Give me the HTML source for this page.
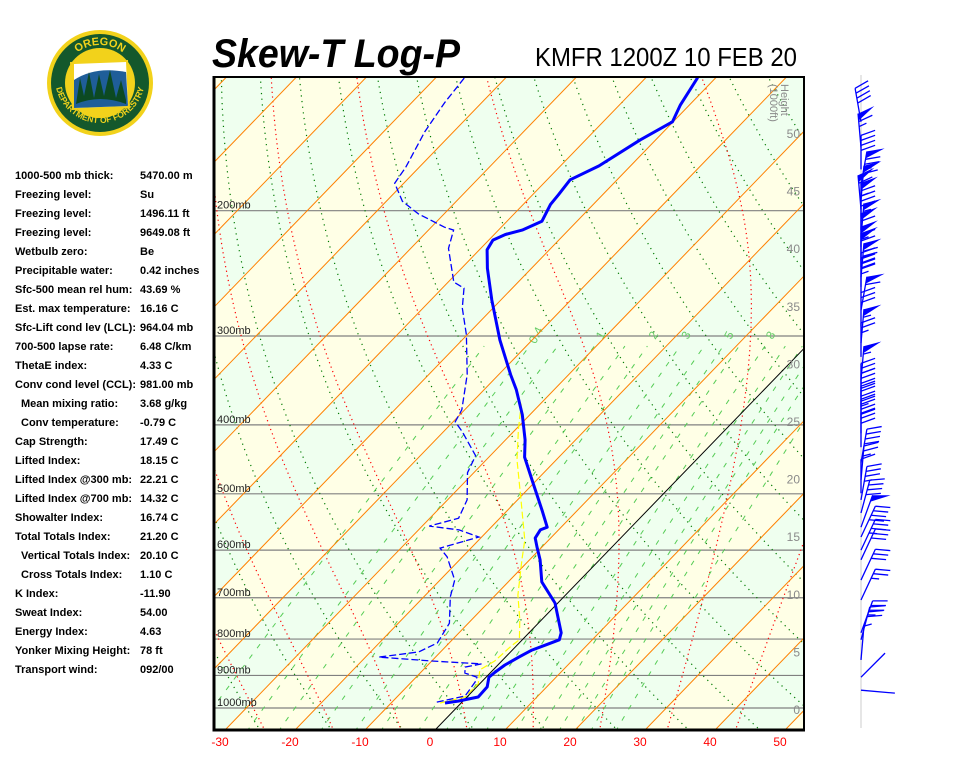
<!DOCTYPE html>
<html><head><meta charset="utf-8"><title>Skew-T Log-P KMFR</title>
<style>
html,body{margin:0;padding:0;background:#fff;}
body{width:960px;height:768px;position:relative;overflow:hidden;font-family:"Liberation Sans",Arial,sans-serif;}
#stats{position:absolute;left:0;top:0;}
.row{position:absolute;font-size:11px;font-weight:bold;color:#000;white-space:nowrap;}
</style></head>
<body>
<svg id="chart" width="960" height="768" viewBox="0 0 960 768" style="position:absolute;left:0;top:0">
  <defs>
    <clipPath id="plotclip"><rect x="215" y="78" width="589" height="651"/></clipPath>
    <path id="arcTop" d="M 62 83 A 38 38 0 0 1 138 83"/>
    <path id="arcBot" d="M 55 78 A 45 45 0 0 0 145 78"/>
  </defs>
  <g>
    <circle cx="100" cy="83" r="53" fill="#f2d21b"/>
    <circle cx="100" cy="83" r="49" fill="#14582c"/>
    <circle cx="100" cy="83" r="35" fill="#f2d21b"/>
    <path d="M70 62 L128 60 L130 108 L72 110 Z" fill="#f2d21b"/>
    <path d="M74 64 L126 62 L128 106 L74 108 Z" fill="#ffffff"/>
    <path d="M74 80 Q95 66 126 72 L128 106 L74 108 Z" fill="#1f5e99"/>
    <path d="M76 104 L80 78 L84 96 L89 72 L94 98 L99 74 L104 96 L110 70 L116 98 L121 80 L126 100 L126 104 Q100 94 76 104 Z" fill="#0c4a22"/>
    <text font-family="Liberation Sans, sans-serif" font-weight="bold" font-size="11" fill="#f2d21b"><textPath href="#arcTop" startOffset="50%" text-anchor="middle">OREGON</textPath></text>
    <text font-family="Liberation Sans, sans-serif" font-weight="bold" font-size="8.5" fill="#f2d21b"><textPath href="#arcBot" startOffset="50%" text-anchor="middle">DEPARTMENT OF FORESTRY</textPath></text>
  </g>
  <text x="212" y="67" font-family="Liberation Sans, sans-serif" font-weight="bold" font-style="italic" font-size="40" textLength="248" lengthAdjust="spacingAndGlyphs">Skew-T Log-P</text>
  <text x="535" y="66" font-family="Liberation Sans, sans-serif" font-size="26" textLength="262" lengthAdjust="spacingAndGlyphs">KMFR 1200Z 10 FEB 20</text>
  <g id="plot" clip-path="url(#plotclip)"></g>
  <g id="over"></g>
  <g id="wind"></g>
</svg>
<div id="stats"></div>
<script>
// ---------- data ----------
const tempP = [984,978,965,934,905,890,870,848,829,816,802,784,712,665,619,594,577,562,557,527,478,444,420,387,357,340,304,267,241,227,220,216,213,207,196,190,181,173,159,150,142,130];
const tempT = [-2.3,-0.7,1.6,1.5,0.4,0.6,1.0,1.9,2.8,4.0,5.3,4.6,-0.4,-5.2,-8.5,-10.7,-12.2,-12.6,-12.0,-15.1,-20.7,-24.9,-27.2,-31.1,-35.4,-38.3,-44.6,-51.3,-56.3,-58.9,-59.4,-58.4,-56.6,-55.0,-56.1,-56.3,-56.7,-54.5,-52.2,-50.1,-51.3,-52.6];
const dewP = [981,971,962,919,905,893,876,867,859,848,834,810,760,698,661,613,596,575,562,555,541,510,467,442,409,396,381,340,299,274,257,252,226,213,211,202,194,183,174,155,141,130];
const dewT = [-3.6,-1.9,-0.4,-0.9,-1.3,-3.6,-4.4,-2.5,-10.0,-18.1,-13.1,-11.7,-12.7,-16.2,-17.9,-22.2,-24.4,-20.4,-24.2,-29.0,-25.9,-27.2,-30.9,-32.1,-37.3,-39.7,-40.4,-44.5,-50.1,-54.4,-56.9,-59.2,-64.6,-66.4,-68.1,-73.7,-77.7,-81.3,-81.9,-84.1,-85.3,-85.9];
const wetP = [984,965,925,884,859,816,802,752,694,619,581,510,448,406,375,340,304,267];
const wetT = [-3.0,-0.3,-0.2,-1.9,-1.0,-0.7,-0.4,-3.1,-6.8,-11.1,-13.4,-19.5,-25.6,-29.6,-32.6,-38.3,-44.6,-51.3];
const windP = [150,163,175,184,193,199,204,213,218,225,235,240,248,256,261,276,291,307,321,346,366,378,394,411,430,452,478,499,510,532,557,575,600,619,661,705,784,802,856,905,944];
const windDir = [350,355,0,10,5,355,0,0,5,0,0,0,5,0,0,10,0,5,0,5,0,0,0,0,0,10,5,0,10,15,20,25,25,25,25,25,20,15,5,45,95];
const windSpd = [40,65,40,75,60,60,65,30,55,60,65,60,70,40,35,60,30,55,25,55,30,40,45,40,30,40,25,10,35,40,50,40,35,30,30,25,35,30,5,0,0];
const isoTicks = [-30,-20,-10,0,10,20,30,40,50];
const pressLevels = [1000,900,800,700,600,500,400,300,200];
const heightTicks = [0,5,10,15,20,25,30,35,40,45,50];
const mixRatios = [0.2,0.4,0.6,1,1.5,2,3,4,5,6,8,10,12,14,16,20];
const mixLabels = [0.4,1,2,3,5,8];
const dryThetaC = [-70,-60,-50,-40,-30,-20,-10,0,10,20,30,40,50,60,70,80,90,100,110,120,130,140,150,160,170,180,190,200];
const moistStartC = [-39,-29,-19,-9,1,11,21,31,41];
const statLabels = ["1000-500 mb thick:","Freezing level:","Freezing level:","Freezing level:","Wetbulb zero:","Precipitable water:","Sfc-500 mean rel hum:","Est. max temperature:","Sfc-Lift cond lev (LCL):","700-500 lapse rate:","ThetaE index:","Conv cond level (CCL):","Mean mixing ratio:","Conv temperature:","Cap Strength:","Lifted Index:","Lifted Index @300 mb:","Lifted Index @700 mb:","Showalter Index:","Total Totals Index:","Vertical Totals Index:","Cross Totals Index:","K Index:","Sweat Index:","Energy Index:","Yonker Mixing Height:","Transport wind:"];
const statValues = ["5470.00 m","Su","1496.11 ft","9649.08 ft","Be","0.42 inches","43.69 %","16.16 C","964.04 mb","6.48 C/km","4.33 C","981.00 mb","3.68 g/kg","-0.79 C","17.49 C","18.15 C","22.21 C","14.32 C","16.74 C","21.20 C","20.10 C","1.10 C","-11.90","54.00","4.63","78 ft","092/00"];
const statIndented = [12,13,20,21];

// ---------- axes ----------
const NS = "http://www.w3.org/2000/svg";
const Y1000 = 708, KLOG = 309, XBASE = 436, XPER = 7, SKEW = 0.967, YBOT = 729;
function yOf(p){ return Y1000 + KLOG*Math.log(p/1000); }
function xOf(T,p){ return XBASE + XPER*T + SKEW*(YBOT - yOf(p)); }
function hY(h){ return 709 - h*11.52; }
function mk(tag, attrs, parent){
  const e = document.createElementNS(NS, tag);
  for (const k in attrs) e.setAttribute(k, attrs[k]);
  parent.appendChild(e);
  return e;
}
function pathFrom(pts){ return pts.map((q,i)=>(i?"L":"M")+q[0].toFixed(1)+" "+q[1].toFixed(1)).join(" "); }
function pRange(p0,p1,n){ const a=[]; for(let i=0;i<=n;i++){ a.push(p0*Math.pow(p1/p0,i/n)); } return a; }

const plot = document.getElementById("plot");
const over = document.getElementById("over");
const PTOP = 120, PBOT = 1080;

// background bands
for (let T=-140; T<60; T+=10){
  const band = mk("polygon", {points:[[xOf(T,PBOT),yOf(PBOT)],[xOf(T+10,PBOT),yOf(PBOT)],[xOf(T+10,PTOP),yOf(PTOP)],[xOf(T,PTOP),yOf(PTOP)]].map(q=>q.join(",")).join(" "), fill: (Math.abs(Math.floor(T/10))%2===0)?"#efffef":"#ffffe6"}, plot);
  
  
}
// pressure lines
pressLevels.forEach(p=>{
  const l = mk("line", {x1:214, x2:804, y1:yOf(p), y2:yOf(p), stroke:"#808080", "stroke-width":1.2}, plot);
  
  
});
// dry adiabats (dark green dotted)
dryThetaC.forEach(thc=>{
  const th = thc + 273.15;
  const pts = pRange(PBOT,PTOP,60).map(p=>{ const T = th*Math.pow(p/1000,0.2857)-273.15; return [xOf(T,p),yOf(p)]; });
  const l = mk("path", {d:pathFrom(pts), fill:"none", stroke:"#007a00", "stroke-width":1.2, "stroke-dasharray":"1.2 4.5"}, plot);
  
  
});
// moist adiabats (red dotted)
function esat(Tc){ return 6.112*Math.exp(17.67*Tc/(Tc+243.5)); }
function moistLine(Tk0){
  const out = [];
  function step(pStart,pEnd,n){
    let T = Tk0, p = pStart; const dp = (pEnd-pStart)/n; const arr=[[T,p]];
    for(let i=0;i<n;i++){
      const es = esat(T-273.15), rs = 0.622*es/(p-es);
      const dTdp = (287*T + 2.5e6*rs)/(p*(1004 + 2.5e6*2.5e6*rs*0.622/(287*T*T)));
      T += dTdp*dp; p += dp; arr.push([T,p]);
    }
    return arr;
  }
  const up = step(1000,PTOP,200), dn = step(1000,PBOT,20);
  dn.reverse().concat(up.slice(1)).forEach(a=>out.push([xOf(a[0]-273.15,a[1]), yOf(a[1])]));
  return out;
}
moistStartC.forEach(t0=>{
  const l = mk("path", {d:pathFrom(moistLine(t0+273.15)), fill:"none", stroke:"#ff0000", "stroke-width":1.2, "stroke-dasharray":"1.2 3.5"}, plot);
  
  
});
// mixing ratio lines
function tdFromW(w,p){ const e = w*p/(622+w); const L = Math.log(e/6.112); return 243.5*L/(17.67-L); }
mixRatios.forEach(w=>{
  const pts = pRange(PBOT,310,30).map(p=>[xOf(tdFromW(w,p),p),yOf(p)]);
  const l = mk("path", {d:pathFrom(pts), fill:"none", stroke:"#55cc55", "stroke-width":1, "stroke-dasharray":"5 8"}, plot);
  
  
});
mixLabels.forEach(w=>{
  const p = 305, x = xOf(tdFromW(w,p),p)+6, y = yOf(p)-4;
  const t = mk("text", {x:x, y:y, fill:"#66cc66", "font-size":12, "font-family":"Liberation Sans, sans-serif", "text-anchor":"middle", transform:"rotate(-62 "+x+" "+y+")"}, plot);
  t.textContent = String(w);
  
  
});
// isotherms
for (let T=-140; T<=60; T+=10){
  const l = mk("line", {x1:xOf(T,PBOT), y1:yOf(PBOT), x2:xOf(T,PTOP), y2:yOf(PTOP), stroke: T===0?"#000000":"#ff8000", "stroke-width":1}, plot);
  
  
}
// pressure labels
pressLevels.forEach(p=>{
  const t = mk("text", {x:217, y:yOf(p)-2, fill:"#222", "font-size":11, "font-family":"Liberation Sans, sans-serif"}, plot);
  t.textContent = p+"mb";
  
  
});
// height labels
heightTicks.forEach(h=>{
  const t = mk("text", {x:800, y:hY(h)+5, fill:"#8a8a8a", "font-size":12, "font-family":"Liberation Sans, sans-serif", "text-anchor":"end"}, plot);
  t.textContent = String(h);
  
  
});
const ht = mk("text", {x:781, y:84, fill:"#8a8a8a", "font-size":11, "font-family":"Liberation Sans, sans-serif", transform:"rotate(90 781 84)"}, plot);
ht.textContent = "Height";


const hu = mk("text", {x:770, y:84, fill:"#8a8a8a", "font-size":11, "font-family":"Liberation Sans, sans-serif", transform:"rotate(90 770 84)"}, plot);
hu.textContent = "(1000ft)";



// profiles
function profile(P,T){ return pathFrom(P.map((p,i)=>[xOf(T[i],p),yOf(p)])); }
const wet = mk("path", {d:profile(wetP,wetT), fill:"none", stroke:"#ffff00", "stroke-width":1.2, "stroke-dasharray":"7 3"}, plot);


const dew = mk("path", {d:profile(dewP,dewT), fill:"none", stroke:"#0000ff", "stroke-width":1.3, "stroke-dasharray":"7 3"}, plot);


const tmp = mk("path", {d:profile(tempP,tempT), fill:"none", stroke:"#0000ff", "stroke-width":3, "stroke-linejoin":"round"}, plot);



// frame
const fr = mk("path", {d:"M214 77 L804 77 L804 730", fill:"none", stroke:"#000", "stroke-width":2}, over);


const fl = mk("path", {d:"M214 76 L214 730 L805 730", fill:"none", stroke:"#000", "stroke-width":3}, over);


isoTicks.forEach(T=>{
  const t = mk("text", {x:430+XPER*T, y:746, fill:"#ff0000", "font-size":12, "font-family":"Liberation Sans, sans-serif", "text-anchor":"middle"}, over);
  t.textContent = String(T);
  
  
});

// wind barbs
const wind = document.getElementById("wind");
const wl = mk("line", {x1:861, y1:75, x2:861, y2:728, stroke:"#e6e6e6", "stroke-width":2}, wind);


windP.forEach((p,i)=>{
  const th = windDir[i]*Math.PI/180, sp = windSpd[i];
  const x0 = 861, y0 = yOf(p), L = 34;
  const ux = Math.sin(th), uy = -Math.cos(th);
  const px = Math.cos(th), py = Math.sin(th);
  const g = mk("g", {}, wind);
  
  
  mk("line", {x1:x0, y1:y0, x2:x0+ux*L, y2:y0+uy*L, stroke:"#0000ff", "stroke-width":1.3}, g);
  let rem = Math.round(sp/5)*5, pos = L;
  const bx = 0.94, bu = 0.34;
  while (rem >= 50){
    const ax = x0+ux*pos, ay = y0+uy*pos, cx = x0+ux*(pos-7), cy = y0+uy*(pos-7);
    const tx = ax + (px*bx+ux*bu)*18, ty = ay + (py*bx+uy*bu)*18;
    mk("polygon", {points:[ax,ay,tx,ty,cx,cy].join(","), fill:"#0000ff"}, g);
    rem -= 50; pos -= 8;
  }
  while (rem >= 10){
    const ax = x0+ux*pos, ay = y0+uy*pos;
    mk("line", {x1:ax, y1:ay, x2:ax+(px*bx+ux*bu)*15, y2:ay+(py*bx+uy*bu)*15, stroke:"#0000ff", "stroke-width":1.3}, g);
    rem -= 10; pos -= 5;
  }
  if (rem >= 5){
    const ax = x0+ux*pos, ay = y0+uy*pos;
    mk("line", {x1:ax, y1:ay, x2:ax+(px*bx+ux*bu)*8, y2:ay+(py*bx+uy*bu)*8, stroke:"#0000ff", "stroke-width":1.3}, g);
  }
});

// stats panel
const stats = document.getElementById("stats");
statLabels.forEach((lab,i)=>{
  const top = 170 + i*19;
  const d1 = document.createElement("div");
  d1.className = "row";
  d1.style.left = (statIndented.indexOf(i)>=0 ? 21 : 15) + "px";
  d1.style.top = top + "px";
  d1.textContent = lab;
  
  
  stats.appendChild(d1);
  const d2 = document.createElement("div");
  d2.className = "row";
  d2.style.left = "140px";
  d2.style.top = top + "px";
  d2.textContent = statValues[i];
  
  
  stats.appendChild(d2);
});
</script>
</body></html>
